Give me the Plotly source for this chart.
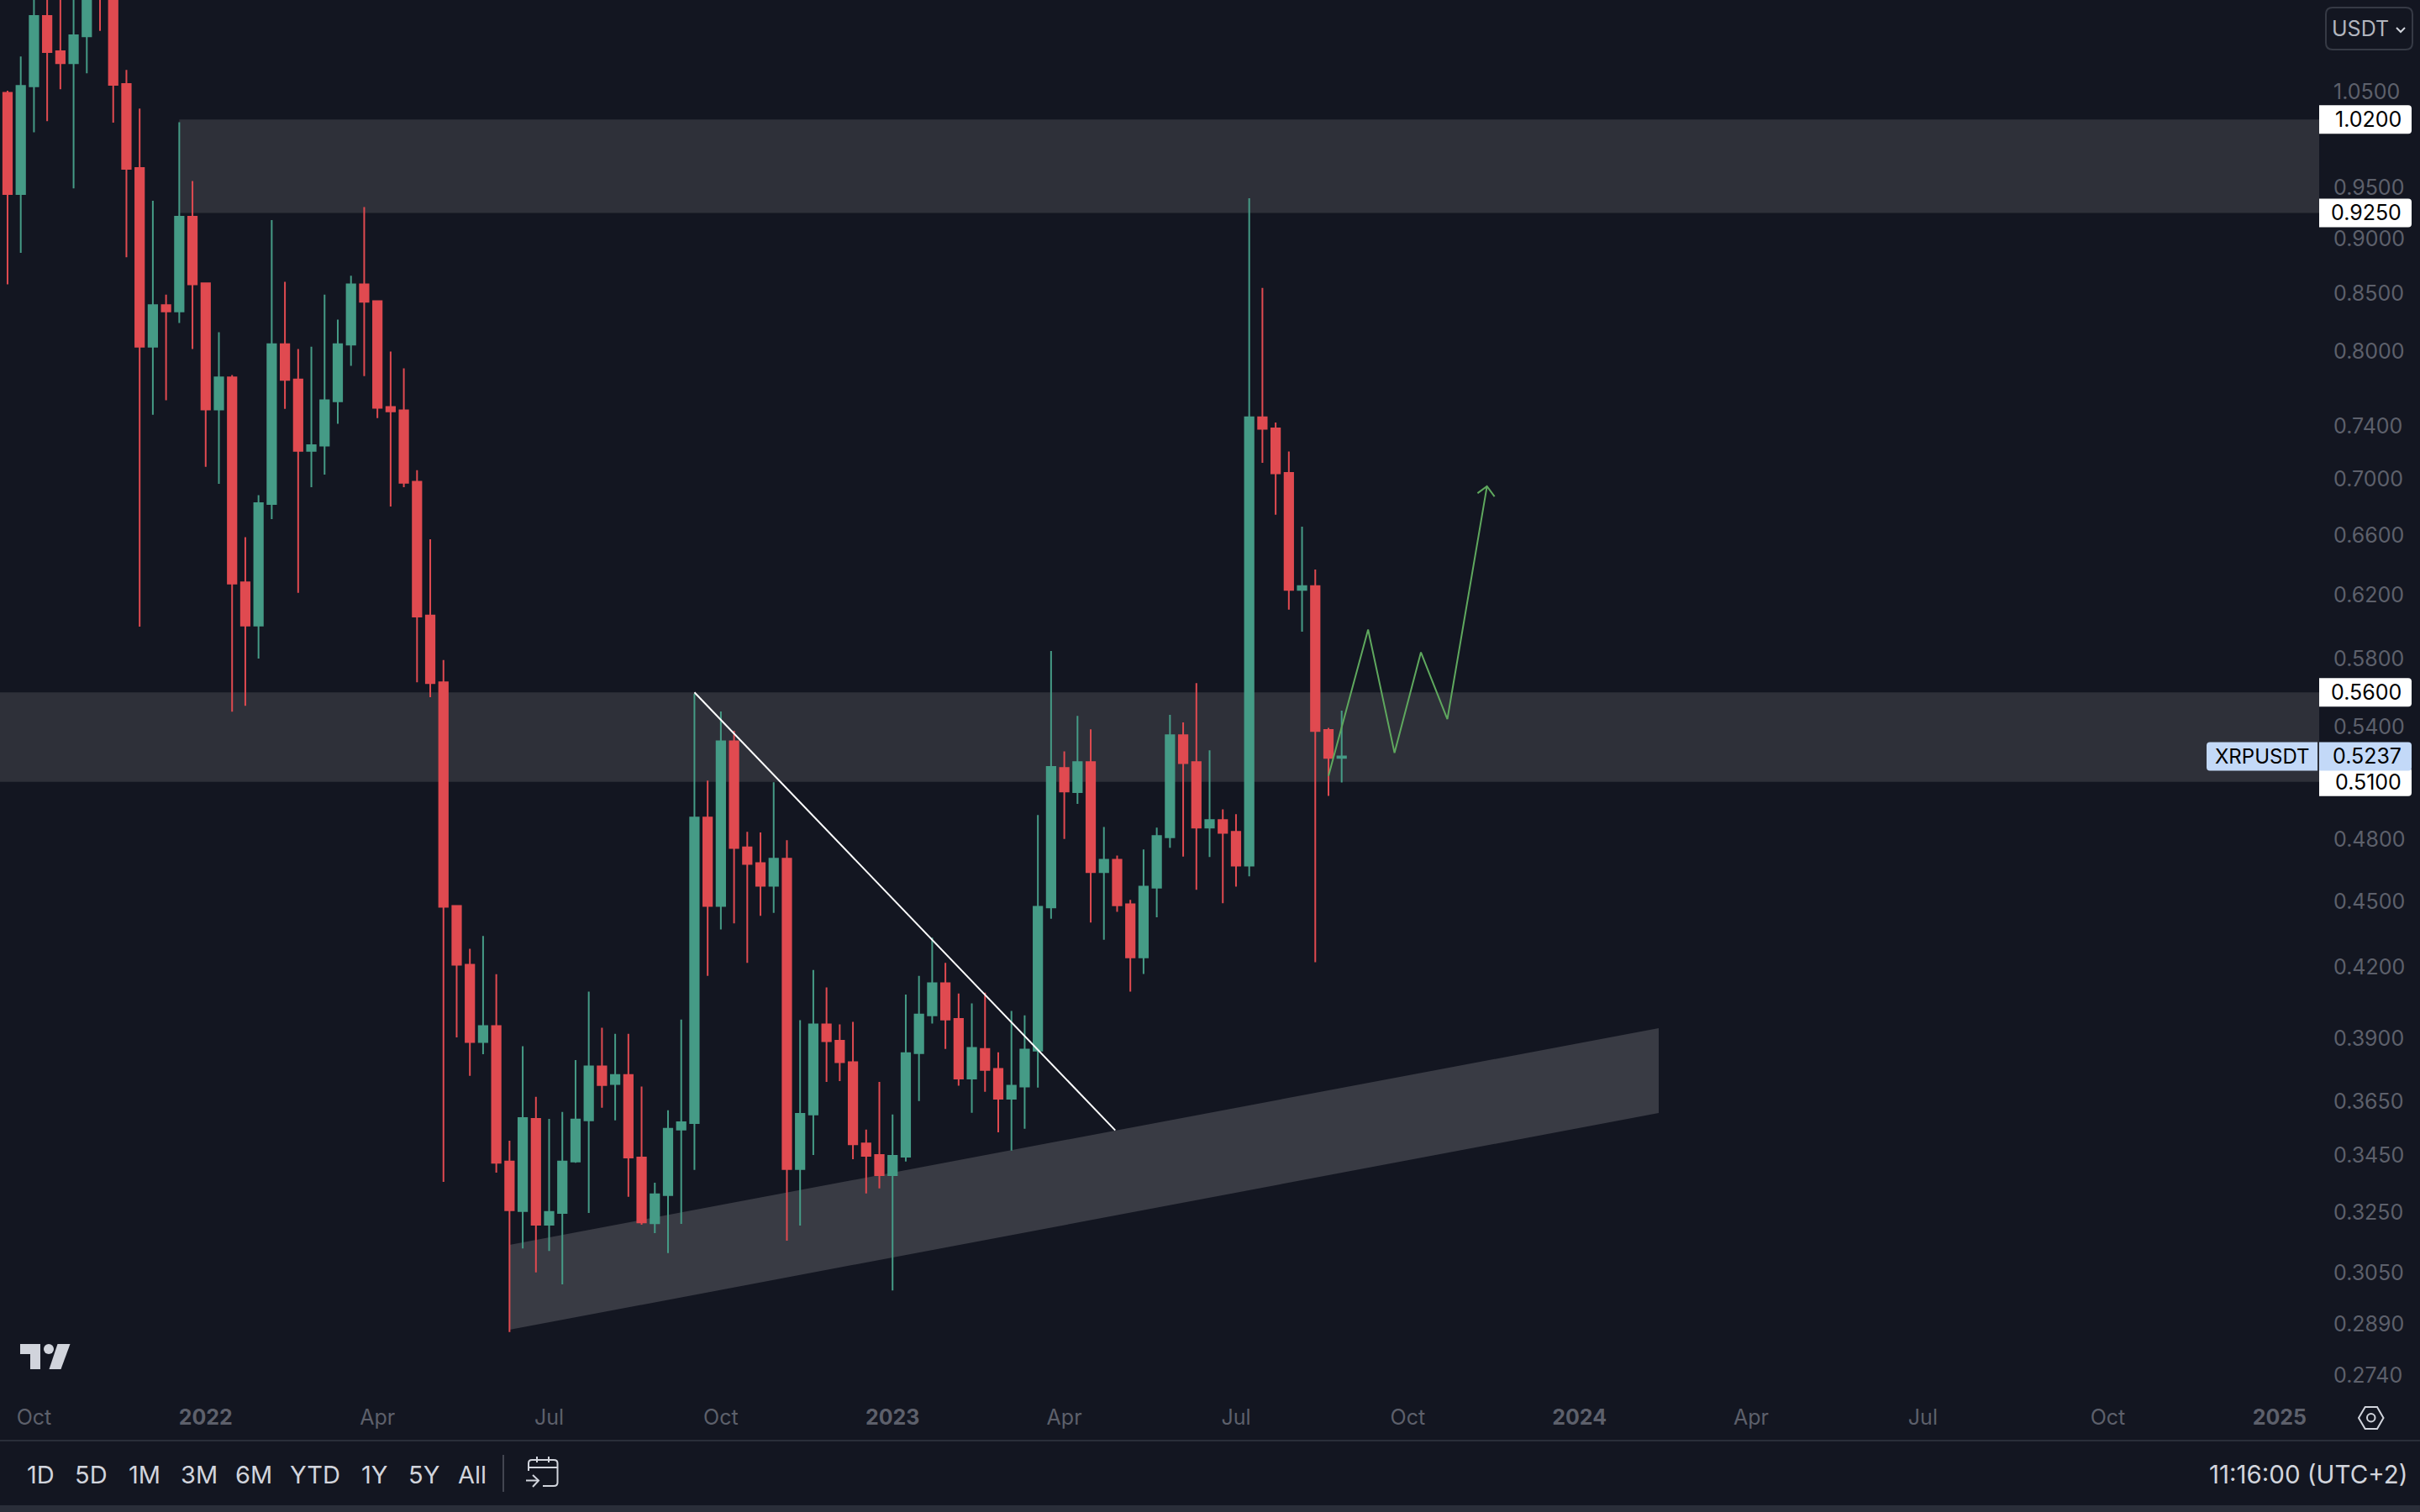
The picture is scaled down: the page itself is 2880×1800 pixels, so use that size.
import math
import pandas as pd
import plotly.graph_objects as go

# ---- data ----
first_week = "2021-09-20"
open_ = [1.0489,0.9433,1.0559,1.1367,1.0955,1.0818,1.1128,1.2035,1.1735,1.0585,0.9694,0.8041,0.8399,0.8344,0.9212,0.8592,0.7530,0.7786,0.6284,0.6005,0.6820,0.8062,0.7770,0.7210,0.7250,0.7595,0.8058,0.8583,0.8433,0.7549,0.7523,0.6981,0.6069,0.5659,0.4478,0.4211,0.3884,0.3949,0.3427,0.3254,0.3584,0.3208,0.3248,0.3427,0.3578,0.3786,0.3717,0.3752,0.3442,0.3213,0.3309,0.3544,0.3568,0.4912,0.4478,0.5321,0.4762,0.4684,0.4574,0.4705,0.3400,0.3600,0.3956,0.3889,0.3803,0.3493,0.3451,0.3379,0.3445,0.3839,0.3994,0.4130,0.3979,0.3738,0.3856,0.3776,0.3660,0.3707,0.3849,0.4471,0.5174,0.5045,0.5206,0.4640,0.4700,0.4486,0.4244,0.4565,0.4812,0.5354,0.5206,0.4861,0.4900,0.4840,0.4671,0.7469,0.7382,0.7046,0.6234,0.6259,0.5384,0.5229]
high = [1.0511,1.0895,1.1914,1.1914,1.1914,1.1914,1.2280,1.2280,1.1735,1.0742,1.0316,0.9367,0.8492,1.0171,0.9563,0.8592,0.8164,0.7805,0.6587,0.6883,0.9180,0.8605,0.8021,0.8041,0.8492,0.8272,0.8661,0.9306,0.8441,0.8001,0.7861,0.7066,0.6573,0.5793,0.4478,0.4282,0.4340,0.4170,0.3503,0.3867,0.3667,0.3584,0.3610,0.3811,0.4094,0.3942,0.3917,0.3917,0.3707,0.3352,0.3616,0.3976,0.5591,0.5106,0.5489,0.5379,0.4840,0.4836,0.5097,0.4797,0.3974,0.4188,0.4112,0.3956,0.3967,0.3544,0.3725,0.3600,0.4082,0.4162,0.4332,0.4219,0.4086,0.4044,0.4090,0.3842,0.4012,0.3994,0.4926,0.5848,0.5265,0.5464,0.5387,0.4864,0.4721,0.4507,0.4751,0.4861,0.5470,0.5427,0.5654,0.5271,0.4955,0.4930,0.9392,0.8551,0.7427,0.7206,0.6661,0.6368,0.5396,0.5494]
low = [0.8583,0.8870,1.0064,1.0181,1.0527,0.9491,1.0704,1.1190,1.0166,0.8829,0.5999,0.7488,0.7603,0.8243,0.8021,0.7091,0.6966,0.5488,0.5522,0.5802,0.6714,0.7534,0.6215,0.6942,0.7034,0.7417,0.7881,0.7797,0.7462,0.6803,0.6942,0.5660,0.5572,0.3355,0.3903,0.3749,0.3835,0.3388,0.2867,0.3129,0.3052,0.3121,0.3014,0.3423,0.3248,0.3626,0.3578,0.3303,0.3208,0.3180,0.3114,0.3211,0.3397,0.4162,0.4369,0.4397,0.4219,0.4432,0.4446,0.3155,0.3205,0.3451,0.3725,0.3728,0.3436,0.3315,0.3332,0.2995,0.3427,0.3651,0.3960,0.3856,0.3710,0.3607,0.3687,0.3534,0.3467,0.3547,0.3703,0.4419,0.4804,0.4983,0.4401,0.4323,0.4451,0.4094,0.4171,0.4426,0.4759,0.4716,0.4555,0.4714,0.4491,0.4570,0.4619,0.7121,0.6744,0.6106,0.5967,0.4222,0.5025,0.5096]
close = [0.9433,1.0564,1.1367,1.0944,1.0818,1.1139,1.2035,1.1735,1.0575,0.9685,0.8041,0.8399,0.8344,0.9212,0.8583,0.7530,0.7786,0.6275,0.6005,0.6827,0.8062,0.7766,0.7210,0.7254,0.7603,0.8062,0.8583,0.8428,0.7542,0.7515,0.6974,0.6063,0.5654,0.4474,0.4211,0.3884,0.3949,0.3423,0.3257,0.3587,0.3208,0.3251,0.3427,0.3581,0.3786,0.3713,0.3752,0.3442,0.3216,0.3312,0.3547,0.3571,0.4912,0.4478,0.5321,0.4758,0.4680,0.4574,0.4705,0.3400,0.3603,0.3956,0.3887,0.3803,0.3490,0.3448,0.3379,0.3448,0.3839,0.3997,0.4130,0.3976,0.3738,0.3860,0.3772,0.3660,0.3710,0.3853,0.4474,0.5180,0.5048,0.5206,0.4640,0.4700,0.4481,0.4244,0.4570,0.4818,0.5354,0.5200,0.4861,0.4900,0.4834,0.4671,0.7469,0.7378,0.7042,0.6234,0.6259,0.5378,0.5229,0.5237]

date_ticks = ["2021-10-04","2022-01-03","2022-04-04","2022-07-04","2022-10-03","2023-01-02","2023-04-03","2023-07-03","2023-10-02","2024-01-01","2024-04-01","2024-07-01","2024-10-07","2025-01-06"]
date_labels = ["Oct","<b>2022</b>","Apr","Jul","Oct","<b>2023</b>","Apr","Jul","Oct","<b>2024</b>","Apr","Jul","Oct","<b>2025</b>"]
price_ticks = [1.05,0.95,0.90,0.85,0.80,0.74,0.70,0.66,0.62,0.58,0.54,0.48,0.45,0.42,0.39,0.365,0.345,0.325,0.305,0.289,0.274]

upper_zone = [0.925, 1.02]
lower_zone = [0.51, 0.56]
channel_dates = ["2022-06-13", "2024-02-12"]
channel_top = [0.3141, 0.3941]
channel_bottom = [0.2874, 0.3606]
trend_dates = ["2022-09-19", "2023-04-30"]
trend_prices = [0.56, 0.3541]
path_dates = ["2023-08-21","2023-09-11","2023-09-25","2023-10-09","2023-10-23","2023-11-13"]
path_prices = [0.5131,0.5980,0.5256,0.5840,0.5445,0.6948]
head_dates = ["2023-11-08","2023-11-13","2023-11-17"]
head_prices = [0.6898,0.6948,0.6874]
level_badges = [1.02, 0.925, 0.56, 0.51]
last_price = 0.5237
symbol = "XRPUSDT"
range_buttons = ["1D","5D","1M","3M","6M","YTD","1Y","5Y","All"]
clock_text = "11:16:00 (UTC+2)"
quote_text = "USDT"

# ---- styles ----
BG = "#131621"; GREEN = "#459b86"; RED = "#e04a50"; ZONE = "#2e3039"; CHANNEL = "#393b44"
GREY = "#5d606b"; LIGHT = "#d1d4dc"; PATH = "#5fa85e"; RULE = "#2a2e39"; BLUE = "#c3d9f8"
FONT = "Inter"
W, H, PW, PH = 2880, 1800, 2760, 1660
X_RANGE = ["2021-09-16", "2025-01-27"]
Y_RANGE = [math.log10(0.2686), math.log10(1.1558)]
px = lambda x: x / PW
py = lambda y: 1 - y / PH

weeks = pd.date_range(first_week, periods=len(open_), freq="W-MON")

fig = go.Figure()
fig.add_trace(go.Candlestick(
    x=weeks, open=open_, high=high, low=low, close=close, whiskerwidth=0,
    increasing=dict(line=dict(color=GREEN, width=2), fillcolor=GREEN),
    decreasing=dict(line=dict(color=RED, width=2), fillcolor=RED), showlegend=False))
fig.add_trace(go.Scatter(x=trend_dates, y=trend_prices, mode="lines", line=dict(color="#ffffff", width=2), showlegend=False))
fig.add_trace(go.Scatter(x=path_dates, y=path_prices, mode="lines", line=dict(color=PATH, width=2), showlegend=False))
fig.add_trace(go.Scatter(x=head_dates, y=head_prices, mode="lines", line=dict(color=PATH, width=2), showlegend=False))

shapes = [
    dict(type="rect", xref="x", yref="y", x0="2021-12-20", x1=X_RANGE[1], y0=upper_zone[0], y1=upper_zone[1],
         fillcolor=ZONE, line_width=0, layer="below"),
    dict(type="rect", xref="x", yref="y", x0=X_RANGE[0], x1=X_RANGE[1], y0=lower_zone[0], y1=lower_zone[1],
         fillcolor=ZONE, line_width=0, layer="below"),
    dict(type="path", xref="x", yref="y", layer="below", fillcolor=CHANNEL, line_width=0,
         path=f"M{channel_dates[0]},{channel_top[0]} L{channel_dates[1]},{channel_top[1]} "
              f"L{channel_dates[1]},{channel_bottom[1]} L{channel_dates[0]},{channel_bottom[0]} Z"),
]

def paper_path(cmds):
    out = []
    for c in cmds:
        if len(c) == 1:
            out.append(c[0])
        else:
            pts = " ".join(f"{px(c[i]):.6f},{py(c[i+1]):.6f}" for i in range(1, len(c), 2))
            out.append(c[0] + pts)
    return " ".join(out)

def stroke(cmds, color=LIGHT, width=2, fill=None):
    d = dict(type="path", xref="paper", yref="paper", path=paper_path(cmds), layer="above",
             line=dict(color=color, width=width))
    if fill:
        d["fillcolor"] = fill
        d["line"] = dict(width=0)
    return d

def rounded(x0, y0, x1, y1, r):
    return [("M", x0 + r, y0), ("L", x1 - r, y0), ("Q", x1, y0, x1, y0 + r), ("L", x1, y1 - r), ("Q", x1, y1, x1 - r, y1),
            ("L", x0 + r, y1), ("Q", x0, y1, x0, y1 - r), ("L", x0, y0 + r), ("Q", x0, y0, x0 + r, y0), ("Z",)]

annotations = []
def label(x, y, text, color=LIGHT, size=29, anchor="center", yref_price=None):
    annotations.append(dict(xref="paper", x=px(x), yref="y" if yref_price else "paper",
                            y=math.log10(yref_price) if yref_price else py(y),
                            text=text, showarrow=False, xanchor=anchor, yanchor="middle",
                            font=dict(family=FONT, size=size, color=color)))

# price badges, positioned by price through the y axis
for p in level_badges + [last_price]:
    col = BLUE if p == last_price else "#ffffff"
    shapes.append(dict(type="path", xref="paper", yref="y", xsizemode="pixel", ysizemode="pixel", xanchor=1, yanchor=p,
                       path="M0,-17 L106,-17 Q110,-17 110,-13 L110,13 Q110,17 106,17 L0,17 Z",
                       fillcolor=col, line_width=0, layer="above"))
shapes.append(dict(type="path", xref="paper", yref="y", xsizemode="pixel", ysizemode="pixel", xanchor=1, yanchor=last_price,
                   path="M-134,-17 L-2,-17 L-2,17 L-130,17 Q-134,17 -134,13 L-134,-13 Q-134,-17 -130,-17 Z",
                   fillcolor=BLUE, line_width=0, layer="above"))
for p in level_badges:
    label(2860, 0, f"{p:.4f}", "#000000", 25, "right", yref_price=p)
label(2860, 0, f"{last_price:.4f}", "#000000", 25, "right", yref_price=last_price)
label(2692, 0, symbol, "#000000", 24, "center", yref_price=last_price)

# currency box
shapes.append(stroke(rounded(2768, 9, 2871, 59, 8), "#363a45", 2))
shapes.append(stroke([("M", 2852, 33), ("L", 2857, 38), ("L", 2862, 33)], LIGHT, 2))
label(2773, 34, quote_text, "#b2b5be", 25, "left")

# logo
shapes.append(stroke([("M", 24, 1600), ("L", 48, 1600), ("L", 48, 1630), ("L", 36, 1630), ("L", 36, 1612), ("L", 24, 1612), ("Z",)], fill=LIGHT))
shapes.append(stroke([("M", 68.5, 1600), ("L", 83.5, 1600), ("L", 72.5, 1630), ("L", 58.5, 1630), ("Z",)], fill=LIGHT))
shapes.append(dict(type="circle", xref="paper", yref="paper", x0=px(52), x1=px(64), y0=py(1600), y1=py(1612), fillcolor=LIGHT, line_width=0))

# toolbar
shapes.append(stroke([("M", 0, 1715), ("L", W, 1715)], RULE, 2))
shapes.append(stroke([("M", 0, 1792), ("L", W, 1792), ("L", W, 1800), ("L", 0, 1800), ("Z",)], fill=RULE))
shapes.append(stroke([("M", 599, 1732), ("L", 599, 1776)], "#434651", 2))
cal = [("M", 629, 1751), ("L", 629, 1742), ("Q", 629, 1738, 633, 1738), ("L", 659, 1738), ("Q", 663.5, 1738, 663.5, 1742),
       ("L", 663.5, 1765), ("Q", 663.5, 1769, 659, 1769), ("L", 646, 1769)]
shapes.append(stroke(cal))
shapes.append(stroke([("M", 629, 1747), ("L", 663.5, 1747)]))
shapes.append(stroke([("M", 639, 1734), ("L", 639, 1741)]))
shapes.append(stroke([("M", 653, 1734), ("L", 653, 1741)]))
shapes.append(stroke([("M", 626, 1762.5), ("L", 641, 1762.5)]))
shapes.append(stroke([("M", 634, 1756), ("L", 641, 1762.5), ("L", 634, 1770)]))
for name, xc in zip(range_buttons, [48, 108, 172, 237, 302, 375, 445, 504, 562]):
    label(xc, 1755, name, LIGHT, 29)
label(2868, 1755, clock_text, LIGHT, 29.5, "right")

# settings hexagon
shapes.append(stroke([("M", 2807, 1688), ("L", 2814.7, 1675), ("L", 2829, 1675), ("L", 2836.5, 1688), ("L", 2829, 1701), ("L", 2814.7, 1701), ("Z",)]))
shapes.append(dict(type="circle", xref="paper", yref="paper", x0=px(2817), x1=px(2826.5), y0=py(1683), y1=py(1692.5),
                   line=dict(color=LIGHT, width=2)))

fig.update_layout(
    width=W, height=H, margin=dict(l=0, r=W - PW, t=0, b=H - PH, pad=0),
    paper_bgcolor=BG, plot_bgcolor=BG, showlegend=False, boxgap=0.35, boxgroupgap=0,
    font=dict(family=FONT, color=GREY, size=25),
    shapes=shapes, annotations=annotations,
    xaxis=dict(type="date", range=X_RANGE, tickmode="array", tickvals=date_ticks, ticktext=date_labels,
               showgrid=False, zeroline=False, showline=False, ticks="", rangeslider=dict(visible=False),
               tickfont=dict(family=FONT, size=25, color=GREY), ticklabelstandoff=10, tickangle=0),
    yaxis=dict(type="log", range=Y_RANGE, side="right", tickmode="array", tickvals=price_ticks,
               ticktext=[f"{t:.4f}" for t in price_ticks], showgrid=False, zeroline=False, showline=False, ticks="",
               tickfont=dict(family=FONT, size=25, color=GREY), ticklabelstandoff=16),
)

fig.write_html("out.html", config=dict(displayModeBar=False),
               post_script="document.body.style.margin='0';document.body.style.overflow='hidden';document.body.style.background='%s';" % BG)
